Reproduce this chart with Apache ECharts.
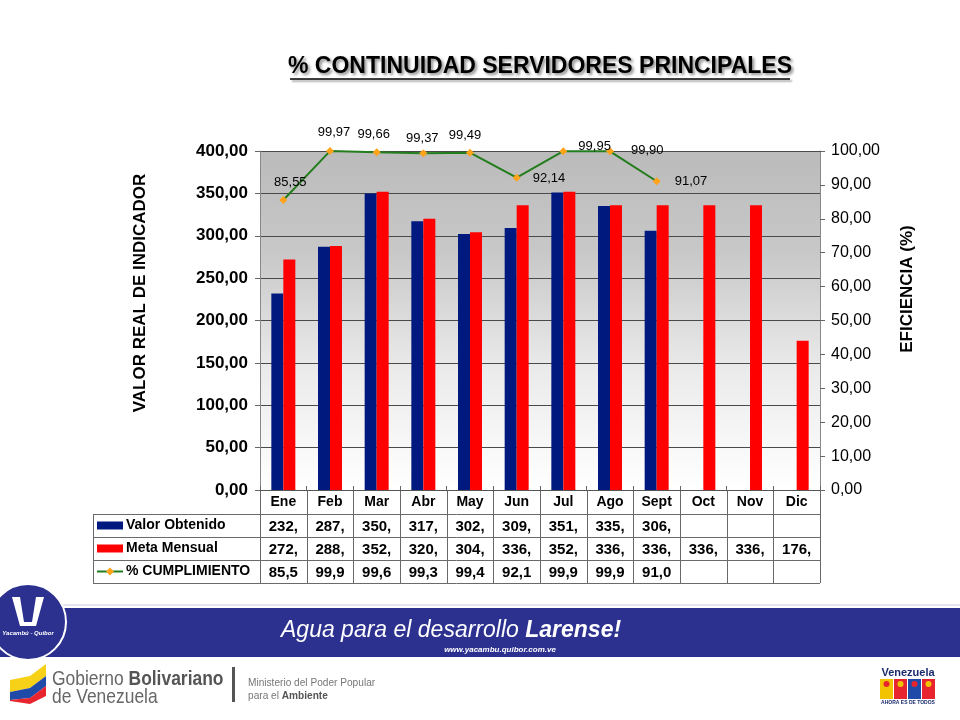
<!DOCTYPE html>
<html><head><meta charset="utf-8">
<script src="https://cdn.jsdelivr.net/npm/echarts@6/dist/echarts.min.js"></script>
<style>html,body{margin:0;padding:0;background:#fff}#c{width:960px;height:720px}</style>
</head><body><div id="c"></div>
<script>
// ---- data ----
const categories = ['Ene','Feb','Mar','Abr','May','Jun','Jul','Ago','Sept','Oct','Nov','Dic'];
const valorObtenido = [232,287,350,317,302,309,351,335,306,null,null,null];
const metaMensual = [272,288,352,320,304,336,352,336,336,336,336,176];
const cumplimiento = [85.55,99.97,99.66,99.37,99.49,92.14,99.95,99.90,91.07,null,null,null];
const seriesNames = ['Valor Obtenido','Meta Mensual','% CUMPLIMIENTO'];
const titleText = '% CONTINUIDAD SERVIDORES PRINCIPALES';
const leftAxisName = 'VALOR REAL DE INDICADOR';
const rightAxisName = 'EFICIENCIA (%)';

// ---- style ----
const FONT = '"Liberation Sans", Arial, sans-serif';
const BLUE = '#00197f', RED = '#ff0000', GREEN = '#237d1c', ORANGE = '#ffa31a';
const labelPlacement = [
  {position:'top', offset:[7,-2]},
  {position:'top', offset:[4,-3]},
  {position:'top', offset:[-3,-2]},
  {position:'top', offset:[-1,1]},
  {position:'top', offset:[-5,-2]},
  {position:'right', distance:12, offset:[0,1]},
  {position:'right', distance:11, offset:[0,-5]},
  {position:'right', distance:17, offset:[0,-1]},
  {position:'right', distance:14, offset:[0,0]}
];
const fmt2 = v => v.toFixed(2).replace('.', ',');
const fmtInt = v => v == null ? '' : Math.floor(v) + ',';
const fmtTrunc1 = v => v == null ? '' : (Math.floor(v * 10 + 1e-6) / 10).toFixed(1).replace('.', ',');

const chart = echarts.init(document.getElementById('c'), null, {renderer:'canvas'});

const option = {
  backgroundColor: '#ffffff',
  animation: false,
  grid: {
    left: 260, right: 140, top: 151, bottom: 230,
    show: true, borderWidth: 0,
    backgroundColor: new echarts.graphic.LinearGradient(0, 0, 0, 1, [
      {offset: 0, color: '#bbbbbb'},
      {offset: 0.3, color: '#c8c8c8'},
      {offset: 0.65, color: '#ebebeb'},
      {offset: 1, color: '#ffffff'}
    ])
  },
  xAxis: [{
    type: 'category', data: categories, boundaryGap: true, position: 'bottom',
    axisLine: {show: true, lineStyle: {color: '#555', width: 1}},
    axisTick: {show: false},
    axisLabel: {fontFamily: FONT, fontWeight: 'bold', fontSize: 14, color: '#000', margin: 5},
    splitLine: {show: false}
  }, {
    type: 'category', data: categories, boundaryGap: true, position: 'top',
    axisLine: {show: false},
    axisTick: {show: true, length: 4, lineStyle: {color: '#666'}},
    axisLabel: {show: false}
  }],
  yAxis: [{
    type: 'value', min: 0, max: 400, interval: 50, position: 'left',
    axisLine: {show: true, lineStyle: {color: '#888', width: 1}},
    axisTick: {show: true, length: 5, lineStyle: {color: '#666'}},
    axisLabel: {fontFamily: FONT, fontWeight: 'bold', fontSize: 17, color: '#000', margin: 12, formatter: fmt2},
    splitLine: {show: true, lineStyle: {color: '#4a4a4a', width: 1}}
  }, {
    type: 'value', min: 0, max: 100, interval: 10, position: 'right',
    axisLine: {show: true, lineStyle: {color: '#888', width: 1}},
    axisTick: {show: true, length: 5, lineStyle: {color: '#666'}},
    axisLabel: {fontFamily: FONT, fontSize: 16, color: '#000', margin: 11, formatter: fmt2},
    splitLine: {show: false}
  }],
  series: [{
    name: seriesNames[0], type: 'bar', data: valorObtenido, barWidth: 12, barGap: '0%',
    itemStyle: {color: BLUE}, z: 2
  }, {
    name: seriesNames[1], type: 'bar', data: metaMensual, barWidth: 12, barGap: '0%',
    itemStyle: {color: RED}, z: 2
  }, {
    name: seriesNames[2], type: 'line', yAxisIndex: 1, data: cumplimiento.map((v, i) => ({
      value: v,
      label: labelPlacement[i] ? Object.assign({show: v != null}, labelPlacement[i]) : {show: false}
    })),
    symbol: 'diamond', symbolSize: 8, connectNulls: false,
    lineStyle: {color: GREEN, width: 2},
    itemStyle: {color: ORANGE},
    label: {show: true, fontFamily: FONT, fontSize: 13, color: '#000', formatter: p => fmt2(p.value)},
    z: 5
  }]
};
chart.setOption(option);

// ---- table + decorations ----
function buildGraphics() {
  const g = [];
  const n = categories.length;
  const c0 = chart.convertToPixel({xAxisIndex: 0}, categories[0]);
  const c1 = chart.convertToPixel({xAxisIndex: 0}, categories[1]);
  const bw = c1 - c0;
  const xStart = c0 - bw / 2;
  const xEnd = xStart + bw * n;
  const yAxis0 = chart.convertToPixel({yAxisIndex: 0}, 0);
  const rowTop = yAxis0 + 24;
  const rowH = 23;
  const tableLeft = 93;
  const lineCol = '#6a6a6a';

  for (let r = 0; r <= 3; r++) {
    const y = Math.round(rowTop + r * rowH) + 0.5;
    g.push({type: 'line', shape: {x1: tableLeft, y1: y, x2: xEnd, y2: y}, style: {stroke: lineCol, lineWidth: 1}, silent: true});
  }
  g.push({type: 'line', shape: {x1: tableLeft + 0.5, y1: rowTop, x2: tableLeft + 0.5, y2: rowTop + 3 * rowH}, style: {stroke: lineCol, lineWidth: 1}});
  for (let i = 0; i <= n; i++) {
    const x = Math.round(xStart + i * bw) + 0.5;
    g.push({type: 'line', shape: {x1: x, y1: yAxis0, x2: x, y2: rowTop + 3 * rowH}, style: {stroke: lineCol, lineWidth: 1}});
  }
  const rowsData = [valorObtenido.map(fmtInt), metaMensual.map(fmtInt), cumplimiento.map(fmtTrunc1)];
  for (let r = 0; r < 3; r++) {
    const cy = rowTop + r * rowH + rowH / 2;
    if (r < 2) {
      g.push({type: 'rect', shape: {x: 97, y: cy - 4, width: 26, height: 8}, style: {fill: r === 0 ? BLUE : RED}});
    } else {
      g.push({type: 'line', shape: {x1: 97, y1: cy, x2: 123, y2: cy}, style: {stroke: GREEN, lineWidth: 2}});
      g.push({type: 'polygon', shape: {points: [[110, cy - 4], [114, cy], [110, cy + 4], [106, cy]]}, style: {fill: ORANGE}});
    }
    g.push({type: 'text', x: 126, y: cy, style: {text: seriesNames[r], font: 'bold 14px ' + FONT, fill: '#000', verticalAlign: 'middle'}});
    for (let i = 0; i < n; i++) {
      const t = rowsData[r][i];
      if (!t) continue;
      g.push({type: 'text', x: xStart + (i + 0.5) * bw, y: cy + 1, style: {text: t, font: 'bold 15px ' + FONT, fill: '#000', align: 'center', verticalAlign: 'middle'}});
    }
  }

  // title
  g.push({type: 'text', x: 540, y: 67, style: {text: titleText, font: 'bold 23px ' + FONT, fill: '#000', align: 'center', verticalAlign: 'middle',
    textShadowColor: 'rgba(0,0,0,0.45)', textShadowBlur: 3, textShadowOffsetX: 2, textShadowOffsetY: 2}});
  g.push({type: 'line', shape: {x1: 290, y1: 79, x2: 790, y2: 79}, style: {stroke: '#000', lineWidth: 1.5, shadowColor: 'rgba(0,0,0,0.4)', shadowBlur: 2, shadowOffsetX: 2, shadowOffsetY: 2}});

  // axis names
  g.push({type: 'text', x: 140, y: 293, rotation: Math.PI / 2, style: {text: leftAxisName, font: 'bold 17px ' + FONT, fill: '#000', align: 'center', verticalAlign: 'middle'}});
  g.push({type: 'text', x: 907, y: 289, rotation: Math.PI / 2, style: {text: rightAxisName, font: 'bold 17px ' + FONT, fill: '#000', align: 'center', verticalAlign: 'middle'}});

  // footer band
  g.push({type: 'rect', shape: {x: 0, y: 604, width: 960, height: 2}, style: {fill: '#e4e4ee'}});
  g.push({type: 'rect', shape: {x: 0, y: 608, width: 960, height: 49}, style: {fill: '#2c3190'}});
  g.push({type: 'circle', shape: {cx: 28, cy: 622, r: 38}, style: {fill: '#2c3190', stroke: '#ffffff', lineWidth: 2}});
  g.push({type: 'polygon', shape: {points: [[12, 597], [20, 597], [24, 622], [32, 622], [36, 597], [44, 597], [36, 626], [20, 626]]}, style: {fill: '#ffffff'}});
  g.push({type: 'text', x: 28, y: 633, style: {text: 'Yacambú - Quíbor', font: 'bold italic 6px ' + FONT, fill: '#fff', align: 'center', verticalAlign: 'middle'}});
  g.push({type: 'text', x: 281, y: 631, style: {rich: {a: {font: 'italic 23px ' + FONT, fill: '#fff'}, b: {font: 'bold italic 23px ' + FONT, fill: '#fff'}}, text: '{a|Agua para el desarrollo }{b|Larense!}', verticalAlign: 'middle'}});
  g.push({type: 'text', x: 500, y: 650, style: {text: 'www.yacambu.quibor.com.ve', font: 'bold italic 8px ' + FONT, fill: '#fff', align: 'center', verticalAlign: 'middle'}});

  // flag
  g.push({type: 'polygon', shape: {points: [[10, 680], [30, 676], [46, 664], [46, 676], [30, 688], [10, 692]]}, style: {fill: '#f7d117'}});
  g.push({type: 'polygon', shape: {points: [[10, 692], [30, 688], [46, 676], [46, 686], [30, 698], [10, 700]]}, style: {fill: '#1f4aa8'}});
  g.push({type: 'polygon', shape: {points: [[10, 700], [30, 698], [46, 686], [46, 696], [30, 704], [10, 701]]}, style: {fill: '#e8252e'}});
  g.push({type: 'text', x: 52, y: 679, scaleX: 0.83, originX: 0, originY: 0, style: {rich: {a: {font: '21px ' + FONT, fill: '#666'}, b: {font: 'bold 21px ' + FONT, fill: '#555'}}, text: '{a|Gobierno }{b|Bolivariano}', verticalAlign: 'middle'}});
  g.push({type: 'text', x: 52, y: 697, scaleX: 0.83, originX: 0, originY: 0, style: {text: 'de Venezuela', font: '21px ' + FONT, fill: '#666', verticalAlign: 'middle'}});
  g.push({type: 'rect', shape: {x: 232, y: 667, width: 3, height: 35}, style: {fill: '#555'}});
  g.push({type: 'text', x: 248, y: 683, scaleX: 0.92, originX: 0, originY: 0, style: {text: 'Ministerio del Poder Popular', font: '11px ' + FONT, fill: '#777', verticalAlign: 'middle'}});
  g.push({type: 'text', x: 248, y: 696, scaleX: 0.92, originX: 0, originY: 0, style: {rich: {a: {font: '11px ' + FONT, fill: '#777'}, b: {font: 'bold 11px ' + FONT, fill: '#555'}}, text: '{a|para el }{b|Ambiente}', verticalAlign: 'middle'}});

  // right logo
  g.push({type: 'text', x: 908, y: 673, style: {text: 'Venezuela', font: 'bold 11px ' + FONT, fill: '#1a2a6c', align: 'center', verticalAlign: 'middle'}});
  const cols = ['#f2c300', '#e8252e', '#1f4aa8', '#e8252e'];
  for (let k = 0; k < 4; k++) {
    g.push({type: 'rect', shape: {x: 880 + k * 14, y: 679, width: 13, height: 20}, style: {fill: cols[k]}});
    g.push({type: 'circle', shape: {cx: 886.5 + k * 14, cy: 684, r: 3}, style: {fill: k % 2 ? '#f2c300' : '#e8252e'}});
  }
  g.push({type: 'text', x: 908, y: 703, style: {text: 'AHORA ES DE TODOS', font: 'bold 5px ' + FONT, fill: '#1a2a6c', align: 'center', verticalAlign: 'middle'}});

  chart.setOption({graphic: g});
}
buildGraphics();
</script>
</body></html>
